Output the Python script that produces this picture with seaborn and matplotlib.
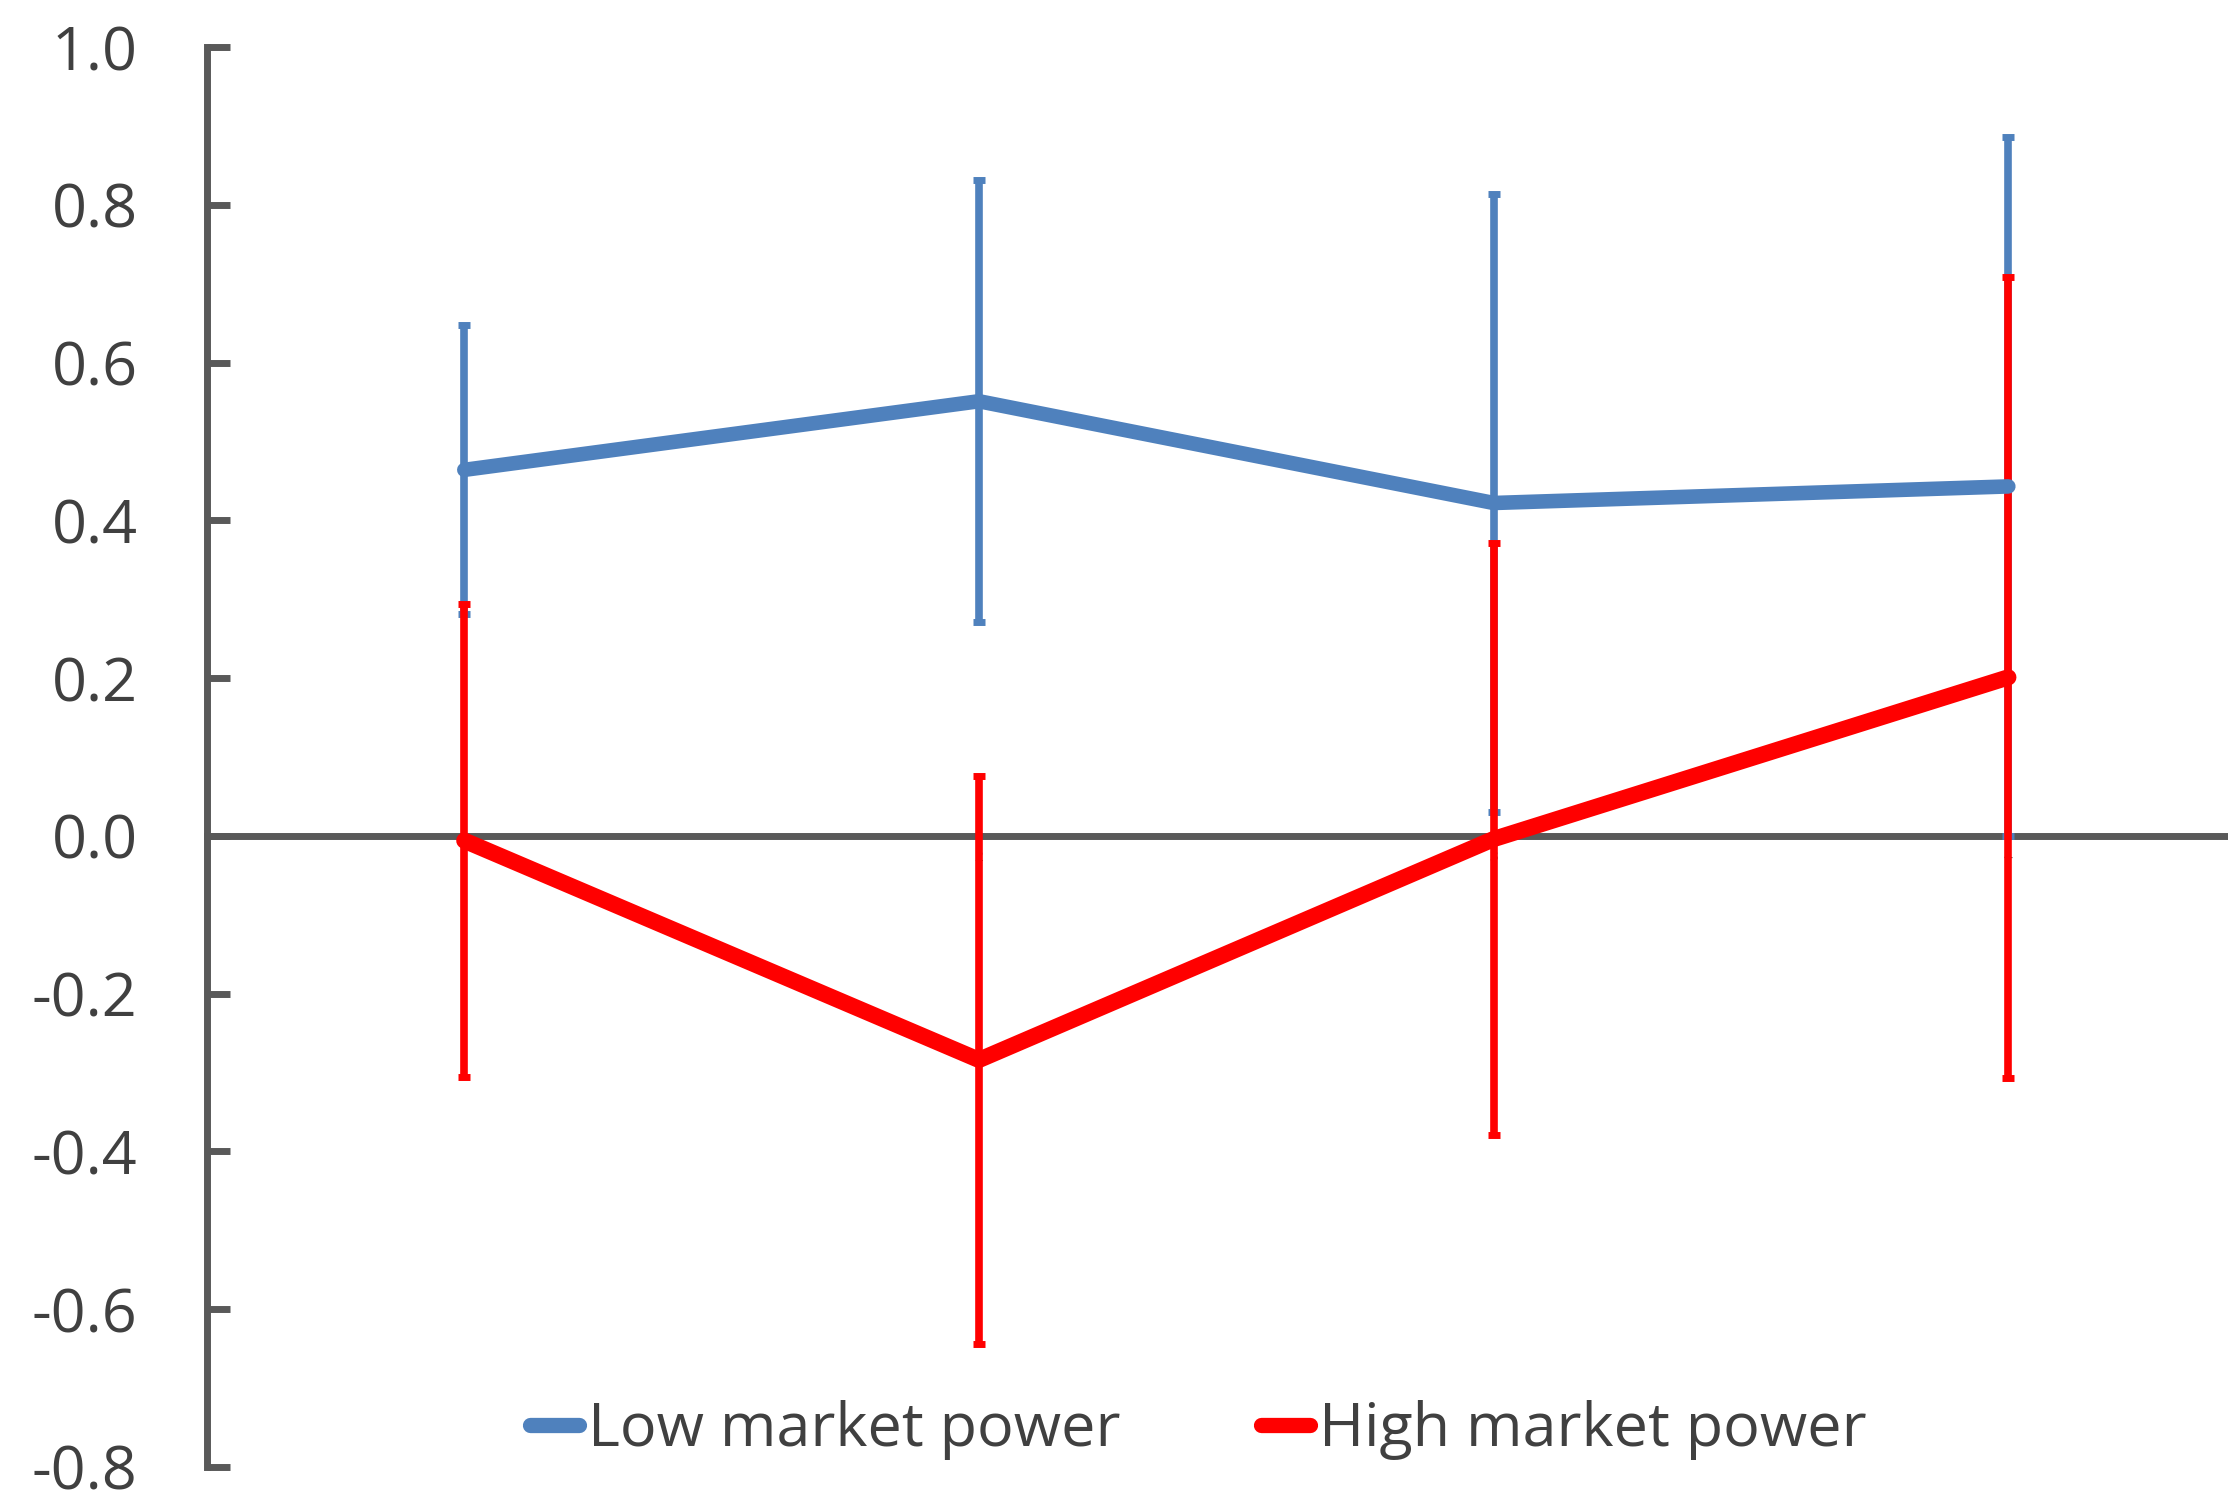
#!/usr/bin/env python3
"""Low vs high market power: means with symmetric error bars over four periods."""

import matplotlib
matplotlib.use("Agg")
import matplotlib.pyplot as plt
from matplotlib.lines import Line2D
import seaborn as sns

# ── data ─────────────────────────────────────────────────────────────────────
CATEGORIES = [1, 2, 3, 4]
SERIES     = ["Low market power", "High market power"]

LOW_MEAN  = [0.464, 0.551, 0.422, 0.443]
LOW_ERR   = [0.183, 0.280, 0.392, 0.443]
HIGH_MEAN = [-0.006, -0.284, -0.004, 0.201]
HIGH_ERR  = [0.300, 0.360, 0.375, 0.508]

Y_TICKS = [1.0, 0.8, 0.6, 0.4, 0.2, 0.0, -0.2, -0.4, -0.6, -0.8]

# ── colour palette ───────────────────────────────────────────────────────────
BLUE       = "#4F81BD"
RED        = "#FF0000"
AXIS_GREY  = "#595959"
TEXT_GREY  = "#404040"

sns.set_theme(style="white")
plt.rcParams["font.family"] = ["Open Sans", "DejaVu Sans"]
plt.rcParams["axes.unicode_minus"] = False

fig = plt.figure(figsize=(22.28, 14.90), dpi=100)
ax = fig.add_axes([0.0929, 0.01544, 0.924, 0.953])

# error bars first, the mean lines sit on top of them
for mean, err, color in [(LOW_MEAN, LOW_ERR, BLUE), (HIGH_MEAN, HIGH_ERR, RED)]:
    ax.errorbar(CATEGORIES, mean, yerr=err, fmt="none", ecolor=color,
                elinewidth=5.5, capsize=4.4, capthick=5, zorder=2)

for mean, color, lw in [(LOW_MEAN, BLUE, 10.5), (HIGH_MEAN, RED, 11.7)]:
    sns.lineplot(x=CATEGORIES, y=mean, color=color, lw=lw, ax=ax,
                 errorbar=None, solid_capstyle="round", zorder=3)

ax.set_xlim(0.5, 4.5)
ax.set_ylim(-0.8, 1.0)

ax.set_yticks(Y_TICKS)
ax.set_yticklabels([f"{v:.1f}" for v in Y_TICKS])
ax.set_xticks(CATEGORIES)
ax.set_xticklabels([str(c) for c in CATEGORIES])

ax.tick_params(axis="y", left=True, direction="in", length=16.5, width=5,
               color=AXIS_GREY, labelsize=44, labelcolor=TEXT_GREY, pad=50)
ax.tick_params(axis="x", bottom=True, length=0, labelsize=11,
               labelcolor=TEXT_GREY, pad=10)

for side in ["top", "right"]:
    ax.spines[side].set_visible(False)
ax.spines["bottom"].set_position(("data", 0))
for side in ["left", "bottom"]:
    ax.spines[side].set_color(AXIS_GREY)
    ax.spines[side].set_linewidth(5)
    ax.spines[side].set_zorder(0.5)
ax.set_axisbelow(True)

handles = [Line2D([], [], color=BLUE, lw=11, solid_capstyle="round"),
           Line2D([], [], color=RED, lw=11, solid_capstyle="round")]
fig.legend(handles, SERIES, loc="center", bbox_to_anchor=(0.538, 0.040),
           ncol=2, frameon=False, fontsize=44, handlelength=0.8,
           handletextpad=0.15, columnspacing=2.3, labelcolor=TEXT_GREY)

fig.savefig("out.png", dpi=100)
